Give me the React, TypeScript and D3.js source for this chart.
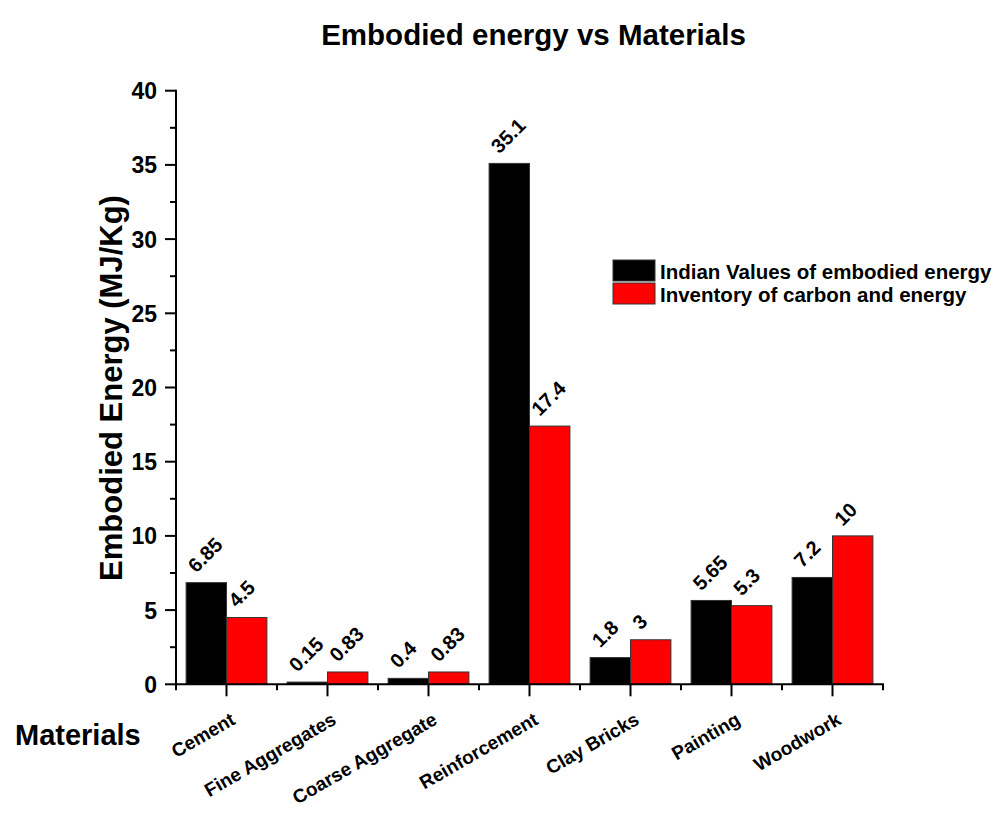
import React from "react";
import * as d3 from "d3";

const categories = ["Cement", "Fine Aggregates", "Coarse Aggregate", "Reinforcement", "Clay Bricks", "Painting", "Woodwork"];
const indianValues = [6.85, 0.15, 0.4, 35.1, 1.8, 5.65, 7.2];
const iceValues = [4.5, 0.83, 0.83, 17.4, 3, 5.3, 10];
const indianLabels = ["6.85", "0.15", "0.4", "35.1", "1.8", "5.65", "7.2"];
const iceLabels = ["4.5", "0.83", "0.83", "17.4", "3", "5.3", "10"];
const seriesNames = ["Indian Values of embodied energy", "Inventory of carbon and energy"];
const seriesColors = ["#000000", "#ff0000"];
const yTicks = [0, 5, 10, 15, 20, 25, 30, 35, 40];

const FONT = "'Liberation Sans', Arial, Helvetica, sans-serif";

export default function App() {
  const W = 1000, H = 820;
  const x0 = 176, x1 = 883, yTop = 90.7, yBot = 684.3;
  const x = d3.scaleBand<string>().domain(categories).range([x0, x1]).paddingInner(0.2).paddingOuter(0.1);
  const step = (x1 - x0) / categories.length;
  const y = d3.scaleLinear().domain([0, 40]).range([yBot, yTop]);
  const bw = x.bandwidth() / 2;
  const minorY = d3.range(2.5, 40, 5);
  const series = [
    { vals: indianValues, labels: indianLabels, color: seriesColors[0], off: 0 },
    { vals: iceValues, labels: iceLabels, color: seriesColors[1], off: 1 },
  ];
  return (
    <svg width={W} height={H} style={{ display: "block", position: "absolute", left: 0, top: 0 }} fontFamily={FONT}>
      <rect x={0} y={0} width={W} height={H} fill="#fff" />
      <text x={533.5} y={45} textAnchor="middle" fontSize={29.5} fontWeight="bold">Embodied energy vs Materials</text>
      {series.map((s, si) =>
        categories.map((c, i) => {
          const bx = (x(c) as number) + s.off * bw;
          const top = y(s.vals[i]);
          return (
            <g key={`${si}-${i}`}>
              <rect x={bx} y={top} width={bw} height={yBot - top} fill={s.color} stroke="#333" strokeWidth={1} />
              <text transform={`translate(${bx + bw / 2 - 10},${top - 9}) rotate(-45)`} fontSize={20} fontWeight="bold">{s.labels[i]}</text>
            </g>
          );
        })
      )}
      {/* y axis */}
      <line x1={x0} x2={x0} y1={yTop - 1} y2={yBot + 1} stroke="#000" strokeWidth={2} />
      {yTicks.map((t) => (
        <g key={t}>
          <line x1={x0 - 11} x2={x0} y1={y(t)} y2={y(t)} stroke="#000" strokeWidth={2} />
          <text x={157} y={y(t) + 8.5} textAnchor="end" fontSize={23} fontWeight="bold">{t}</text>
        </g>
      ))}
      {minorY.map((t) => (
        <line key={t} x1={x0 - 6} x2={x0} y1={y(t)} y2={y(t)} stroke="#000" strokeWidth={2} />
      ))}
      {/* x axis */}
      <line x1={x0 - 1} x2={x1 + 1} y1={yBot} y2={yBot} stroke="#000" strokeWidth={2} />
      {d3.range(categories.length + 1).map((i) => (
        <line key={i} x1={x0 + i * step} x2={x0 + i * step} y1={yBot} y2={yBot + 6} stroke="#000" strokeWidth={2} />
      ))}
      {categories.map((c) => {
        const cx = (x(c) as number) + x.bandwidth() / 2;
        return (
          <g key={c}>
            <line x1={cx} x2={cx} y1={yBot} y2={yBot + 12} stroke="#000" strokeWidth={2} />
            <text transform={`translate(${cx + 10},${yBot + 39}) rotate(-30)`} textAnchor="end" fontSize={19} fontWeight="bold">{c}</text>
          </g>
        );
      })}
      <text transform={`translate(122,388) rotate(-90)`} textAnchor="middle" fontSize={31} fontWeight="bold">Embodied Energy (MJ/Kg)</text>
      <text x={15} y={745} fontSize={29} fontWeight="bold">Materials</text>
      {/* legend */}
      {seriesNames.map((n, i) => (
        <g key={n}>
          <rect x={613} y={260 + i * 23} width={42} height={21} fill={seriesColors[i]} stroke="#333" strokeWidth={1} />
          <text x={660} y={279 + i * 22.5} fontSize={20.5} fontWeight="bold">{n}</text>
        </g>
      ))}
    </svg>
  );
}
